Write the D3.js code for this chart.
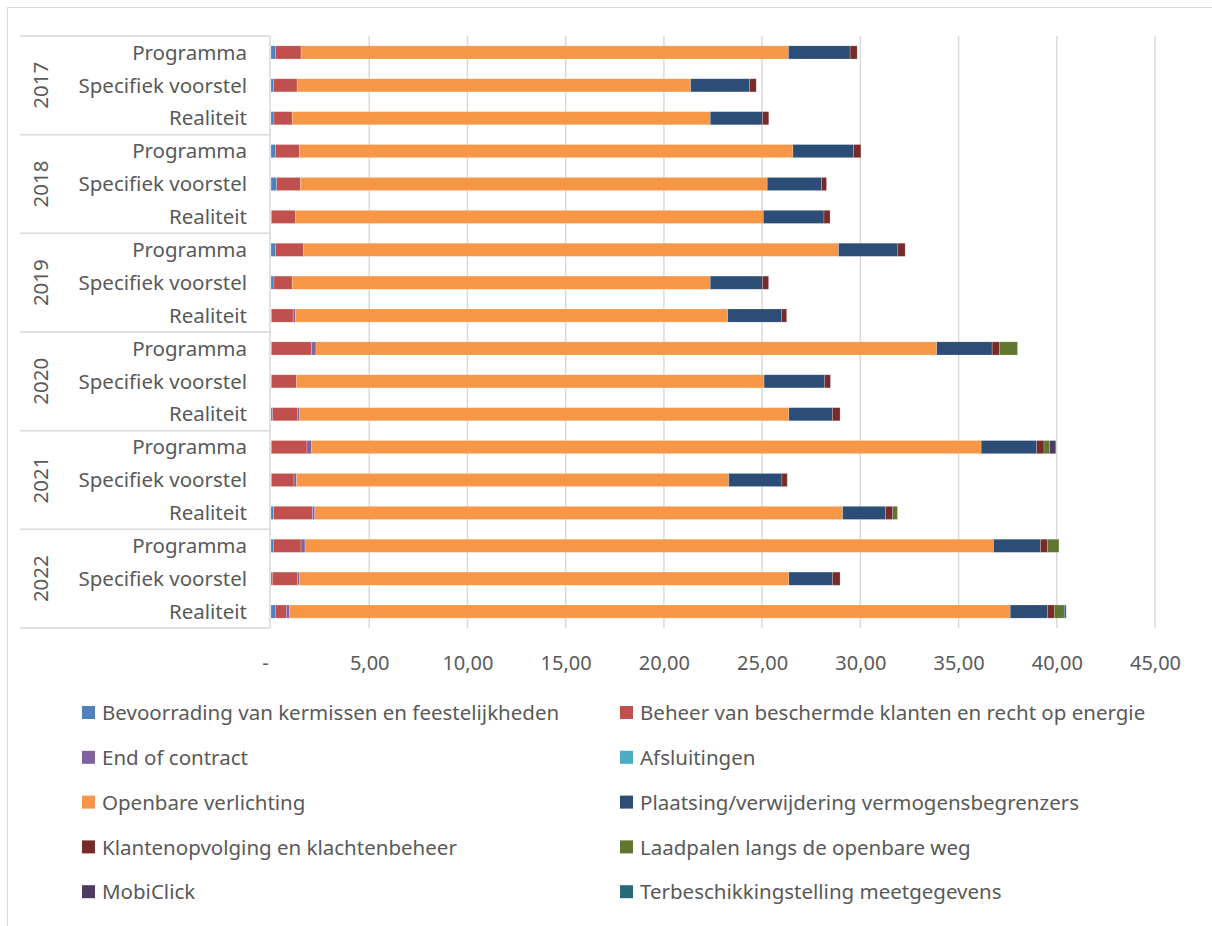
<!DOCTYPE html>
<html>
<head>
<meta charset="utf-8">
<script src="https://cdn.jsdelivr.net/npm/d3@7"></script>
<style>
  body { margin: 0; background: #fff; }
  text { font-family: "Noto Sans", "Open Sans", sans-serif; fill: #595959; }
</style>
</head>
<body>
<div id="chart"></div>
<script>
// years and sub-categories (top to bottom)
const years = ["2017", "2018", "2019", "2020", "2021", "2022"];
const kinds = ["Programma", "Specifiek voorstel", "Realiteit"];

const seriesNames = [
    "Bevoorrading van kermissen en feestelijkheden",
    "Beheer van beschermde klanten en recht op energie",
    "End of contract",
    "Afsluitingen",
    "Openbare verlichting",
    "Plaatsing/verwijdering vermogensbegrenzers",
    "Klantenopvolging en klachtenbeheer",
    "Laadpalen langs de openbare weg",
    "MobiClick",
    "Terbeschikkingstelling meetgegevens"
];
const seriesColors = ["#4F81BD", "#C0504D", "#8064A2", "#4BACC6", "#F79646",
                      "#2C4D75", "#772C2A", "#5F7530", "#4D3B62", "#276A7C"];

// values per series, one per row: 2017 P/S/R, 2018 P/S/R, ... 2022 P/S/R
const bevoorrading = [0.24, 0.14, 0.15, 0.24, 0.29, 0.03, 0.24, 0.15, 0.03, 0.03, 0.03, 0.08, 0.03, 0.03, 0.14, 0.12, 0.07, 0.22];
const beheer       = [1.29, 1.19, 0.93, 1.21, 1.21, 1.22, 1.41, 0.93, 1.10, 2.04, 1.26, 1.26, 1.80, 1.14, 1.97, 1.41, 1.29, 0.56];
const endOfContract= [0, 0, 0, 0, 0, 0, 0, 0, 0.12, 0.22, 0, 0.12, 0.24, 0.12, 0.12, 0.20, 0.10, 0.17];
const afsluitingen = [0, 0, 0, 0, 0, 0, 0, 0, 0, 0, 0, 0, 0, 0, 0, 0, 0, 0];
const verlichting  = [24.81, 20.03, 21.28, 25.12, 23.76, 23.81, 27.24, 21.28, 22.00, 31.60, 23.81, 24.90, 34.08, 22.01, 26.87, 35.05, 24.90, 36.68];
const plaatsing    = [3.14, 3.00, 2.66, 3.09, 2.77, 3.09, 3.02, 2.66, 2.73, 2.82, 3.09, 2.22, 2.83, 2.71, 2.19, 2.39, 2.22, 1.90];
const klanten      = [0.36, 0.34, 0.32, 0.37, 0.25, 0.31, 0.37, 0.31, 0.27, 0.37, 0.29, 0.39, 0.37, 0.27, 0.36, 0.36, 0.39, 0.34];
const laadpalen    = [0, 0, 0, 0, 0, 0, 0, 0, 0, 0.92, 0, 0, 0.29, 0, 0.24, 0.58, 0, 0.51];
const mobiclick    = [0, 0, 0, 0, 0, 0, 0, 0, 0, 0, 0, 0, 0.31, 0, 0, 0, 0, 0];
const terbeschikking = [0, 0, 0, 0, 0, 0, 0, 0, 0, 0, 0, 0, 0, 0, 0, 0, 0, 0.10];

const xTicks = [0, 5, 10, 15, 20, 25, 30, 35, 40, 45];

const seriesValues = [bevoorrading, beheer, endOfContract, afsluitingen, verlichting,
                      plaatsing, klanten, laadpalen, mobiclick, terbeschikking];

// build rows for the stack
const rows = [];
years.forEach(y => kinds.forEach(k => rows.push({ key: y + "|" + k, year: y, kind: k })));
rows.forEach((r, i) => seriesNames.forEach((s, j) => { r[s] = seriesValues[j][i]; }));

const W = 1212, H = 926;
const plot = { left: 271, right: 1155, top: 36, bottom: 628 };

const svg = d3.select("#chart").append("svg")
    .attr("width", W)
    .attr("height", H);

// chart frame
svg.append("rect")
    .attr("x", 7.5).attr("y", 7.5)
    .attr("width", W + 10).attr("height", H + 10)
    .attr("fill", "none")
    .attr("stroke", "#d9d9d9");

const x = d3.scaleLinear().domain([0, 45]).range([plot.left, plot.right]);
const y = d3.scaleBand()
    .domain(rows.map(d => d.key))
    .range([plot.top, plot.bottom])
    .paddingInner(0.6)
    .paddingOuter(0.3);

const color = d3.scaleOrdinal().domain(seriesNames).range(seriesColors);

// gridlines
svg.append("g")
    .selectAll("line")
    .data(xTicks.slice(1))
    .join("line")
    .attr("x1", d => x(d)).attr("x2", d => x(d))
    .attr("y1", plot.top).attr("y2", plot.bottom)
    .attr("stroke", "#d9d9d9")
    .attr("stroke-width", 1.5);

// x axis labels
const xAxis = svg.append("g")
    .attr("transform", `translate(0, ${plot.bottom + 25})`)
    .call(d3.axisBottom(x).tickValues(xTicks).tickSize(0)
        .tickFormat(d => d === 0 ? "-" : d3.format(".2f")(d).replace(".", ",")));
xAxis.select(".domain").remove();
xAxis.selectAll("text")
    .attr("font-size", 20)
    .attr("fill", "#595959")
    .attr("font-family", "'Noto Sans', sans-serif")
    .attr("dx", d => d === 0 ? -6 : 0);

// stacked bars
const stack = d3.stack().keys(seriesNames);
const stacked = stack(rows);

svg.append("g")
    .selectAll("g")
    .data(stacked)
    .join("g")
    .attr("fill", d => color(d.key))
    .selectAll("rect")
    .data(d => d.filter(p => p[1] - p[0] > 0))
    .join("rect")
    .attr("x", d => x(d[0]))
    .attr("y", d => y(d.data.key))
    .attr("width", d => x(d[1]) - x(d[0]))
    .attr("height", y.bandwidth())
    .attr("stroke", "#fff")
    .attr("stroke-opacity", 0.35)
    .attr("stroke-width", 0.6);

// category axis: vertical line + group separators
const groupH = (plot.bottom - plot.top) / years.length;
svg.append("line")
    .attr("x1", 270).attr("x2", 270)
    .attr("y1", plot.top).attr("y2", plot.bottom)
    .attr("stroke", "#d9d9d9").attr("stroke-width", 1.5);

svg.append("g")
    .selectAll("line")
    .data(d3.range(years.length + 1))
    .join("line")
    .attr("x1", 20).attr("x2", 270)
    .attr("y1", i => plot.top + i * groupH)
    .attr("y2", i => plot.top + i * groupH)
    .attr("stroke", "#d9d9d9").attr("stroke-width", 1.5);

// sub category labels
svg.append("g")
    .selectAll("text")
    .data(rows)
    .join("text")
    .attr("x", 247)
    .attr("y", d => y(d.key) + y.bandwidth() / 2)
    .attr("dy", "0.35em")
    .attr("text-anchor", "end")
    .attr("font-size", 20.5)
    .text(d => d.kind);

// year labels (rotated)
svg.append("g")
    .selectAll("text")
    .data(years)
    .join("text")
    .attr("transform", (d, i) => `translate(41, ${plot.top + (i + 0.5) * groupH}) rotate(-90)`)
    .attr("dy", "0.35em")
    .attr("text-anchor", "middle")
    .attr("font-size", 20.5)
    .text(d => d);

// legend, two columns
const legend = svg.append("g");
seriesNames.forEach((s, i) => {
    const col = i % 2, row = Math.floor(i / 2);
    const item = legend.append("g")
        .attr("transform", `translate(${col === 0 ? 82 : 620}, ${713 + row * 44.8})`);
    item.append("rect")
        .attr("x", 0).attr("y", -7)
        .attr("width", 13).attr("height", 13)
        .attr("fill", color(s));
    item.append("text")
        .attr("x", 20)
        .attr("dy", "0.35em")
        .attr("font-size", 20.5)
        .text(s);
});
</script>
</body>
</html>
